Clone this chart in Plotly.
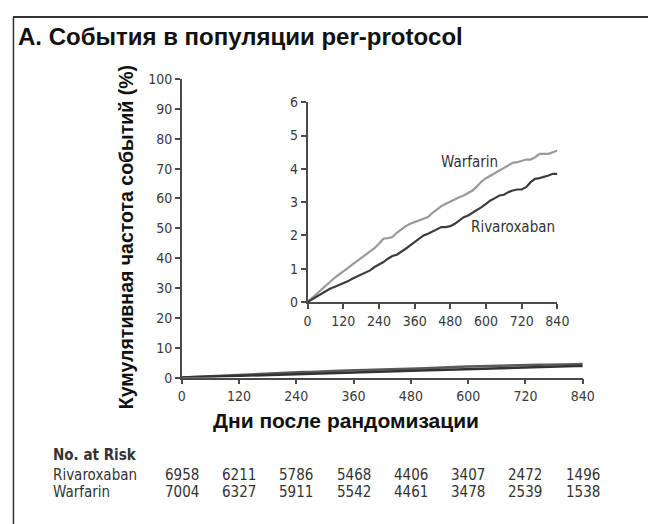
import plotly.graph_objects as go

W, H = 656, 524
OFF = 8  # browser body margin shifts the figure by 8px

days = [0, 15, 30, 45, 60, 75, 90, 105, 120, 135, 150, 165, 180, 195, 210, 225, 240, 255, 270, 285,
        300, 315, 330, 345, 360, 375, 390, 405, 420, 435, 450, 465, 480, 495, 510, 525, 540, 555, 570,
        585, 600, 615, 630, 645, 660, 675, 690, 705, 720, 735, 750, 765, 780, 795, 810, 825, 840]
warfarin = [0, 0.12, 0.25, 0.38, 0.5, 0.62, 0.72, 0.82, 0.93, 1.02, 1.12, 1.22, 1.32, 1.42, 1.5, 1.62,
            1.75, 1.9, 1.92, 1.95, 2.08, 2.18, 2.28, 2.35, 2.4, 2.45, 2.48, 2.55, 2.68, 2.78, 2.88, 2.95,
            3.02, 3.08, 3.15, 3.2, 3.28, 3.35, 3.48, 3.62, 3.72, 3.8, 3.88, 3.95, 4.02, 4.1, 4.18, 4.2,
            4.25, 4.28, 4.28, 4.35, 4.45, 4.45, 4.45, 4.5, 4.55]
rivaroxaban = [0, 0.08, 0.15, 0.25, 0.32, 0.4, 0.45, 0.5, 0.55, 0.62, 0.7, 0.76, 0.82, 0.88, 0.95, 1.05,
               1.12, 1.2, 1.3, 1.38, 1.42, 1.5, 1.6, 1.7, 1.8, 1.9, 2.0, 2.05, 2.12, 2.2, 2.25, 2.25,
               2.28, 2.35, 2.45, 2.55, 2.6, 2.68, 2.75, 2.85, 2.95, 3.05, 3.12, 3.2, 3.22, 3.3, 3.35, 3.38,
               3.38, 3.45, 3.6, 3.7, 3.72, 3.75, 3.8, 3.85, 3.85]

tick_days = [0, 120, 240, 360, 480, 600, 720, 840]
main_yticks = [0, 10, 20, 30, 40, 50, 60, 70, 80, 90, 100]
inset_yticks = [0, 1, 2, 3, 4, 5, 6]
risk_rivaroxaban = [6958, 6211, 5786, 5468, 4406, 3407, 2472, 1496]
risk_warfarin = [7004, 6327, 5911, 5542, 4461, 3478, 2539, 1538]

title_text = "A. События в популяции per-protocol"
ytitle = "Кумулятивная частота событий (%)"
xtitle = "Дни после рандомизации"

NARROW = "Liberation Sans Narrow, DejaVu Sans Condensed, sans-serif"
TICKFONT = dict(family=NARROW, size=14, color="#3a3a3a")
AX = "#4a4a4a"
C_WAR = "#9a9a9a"
C_RIV = "#3c3c3c"

fig = go.Figure()
fig.add_trace(go.Scatter(x=days, y=warfarin, mode="lines", line=dict(color="#5a5a5a", width=2.5),
                         xaxis="x", yaxis="y", showlegend=False, hoverinfo="skip"))
fig.add_trace(go.Scatter(x=days, y=rivaroxaban, mode="lines", line=dict(color="#333333", width=2.5),
                         xaxis="x", yaxis="y", showlegend=False, hoverinfo="skip"))
fig.add_trace(go.Scatter(x=days, y=warfarin, mode="lines", line=dict(color=C_WAR, width=2.2),
                         xaxis="x2", yaxis="y2", showlegend=False, hoverinfo="skip"))
fig.add_trace(go.Scatter(x=days, y=rivaroxaban, mode="lines", line=dict(color=C_RIV, width=2.2),
                         xaxis="x2", yaxis="y2", showlegend=False, hoverinfo="skip"))


def py(p):
    return 1 - (p - OFF) / H


def pxx(p):
    return (p - OFF) / W


axcommon = dict(showgrid=False, zeroline=False, showline=True, linecolor=AX, linewidth=1.5,
                ticks="outside", ticklen=5, tickwidth=1.5, tickcolor=AX, tickfont=TICKFONT)

fig.update_layout(
    width=W, height=H, margin=dict(l=0, r=0, t=0, b=0),
    paper_bgcolor="white", plot_bgcolor="rgba(0,0,0,0)",
    xaxis=dict(domain=[pxx(182), pxx(593)], range=[0, 840], tickvals=tick_days, anchor="y", **axcommon),
    yaxis=dict(domain=[py(381), py(73)], range=[0, 100], tickvals=main_yticks, anchor="x", **axcommon),
    xaxis2=dict(domain=[pxx(311), pxx(567)], range=[0, 840], tickvals=tick_days, anchor="y2", **axcommon),
    yaxis2=dict(domain=[py(303), py(97)], range=[0, 6], tickvals=inset_yticks, anchor="x2", **axcommon),
)

ann = []
BOLD = "Liberation Sans, Arial, sans-serif"
ann.append(dict(text="<b>" + title_text + "</b>", x=pxx(12), y=py(29), xref="paper", yref="paper",
                xanchor="left", yanchor="middle", showarrow=False, font=dict(family=BOLD, size=24, color="#111")))
ann.append(dict(text="<b>" + ytitle + "</b>", x=pxx(125), y=py(236), xref="paper", yref="paper",
                textangle=-90, xanchor="center", yanchor="middle", showarrow=False,
                font=dict(family=BOLD, size=19.5, color="#111")))
ann.append(dict(text="<b>" + xtitle + "</b>", x=pxx(350), y=py(425), xref="paper", yref="paper",
                xanchor="center", yanchor="middle", showarrow=False, font=dict(family=BOLD, size=21, color="#111")))
LBL = dict(family=NARROW, size=15, color="#333")
ann.append(dict(text="Warfarin", x=545, y=4.2, xref="x2", yref="y2", xanchor="center", yanchor="middle",
                showarrow=False, font=LBL))
ann.append(dict(text="Rivaroxaban", x=840, y=2.25, xref="x2", yref="y2", xanchor="right", yanchor="middle",
                showarrow=False, font=LBL))
RF = dict(family=NARROW, size=15, color="#333")
ann.append(dict(text="<b>No. at Risk</b>", x=pxx(48), y=py(461), xref="paper", yref="paper",
                xanchor="left", yanchor="middle", showarrow=False, font=RF))
ann.append(dict(text="Rivaroxaban", x=pxx(48), y=py(481), xref="paper", yref="paper",
                xanchor="left", yanchor="middle", showarrow=False, font=RF))
ann.append(dict(text="Warfarin", x=pxx(48), y=py(499), xref="paper", yref="paper",
                xanchor="left", yanchor="middle", showarrow=False, font=RF))
for d, r, w in zip(tick_days, risk_rivaroxaban, risk_warfarin):
    ann.append(dict(text=str(r), x=d, y=py(481), xref="x", yref="paper", xanchor="center", yanchor="middle",
                    showarrow=False, font=RF))
    ann.append(dict(text=str(w), x=d, y=py(499), xref="x", yref="paper", xanchor="center", yanchor="middle",
                    showarrow=False, font=RF))
fig.update_layout(annotations=ann)

fig.add_shape(type="line", xref="paper", yref="paper", x0=pxx(9), x1=1, y0=py(9), y1=py(9),
              line=dict(color="#333", width=2))
fig.add_shape(type="line", xref="paper", yref="paper", x0=pxx(9.5), x1=pxx(9.5), y0=py(9), y1=0,
              line=dict(color="#333", width=1.5))

fig.write_html("out.html")
